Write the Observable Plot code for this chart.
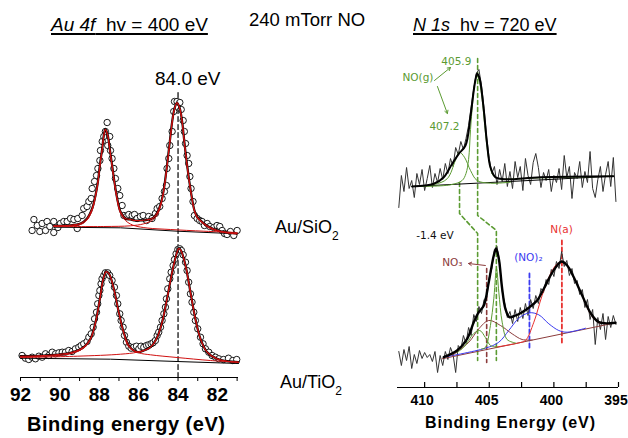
<!DOCTYPE html>
<html><head><meta charset="utf-8">
<script src="https://cdn.jsdelivr.net/npm/d3@7"></script>
<script src="https://cdn.jsdelivr.net/npm/@observablehq/plot@0.6"></script>
<style>
body{margin:0;background:#fff;}
#wrap{position:relative;width:628px;height:438px;overflow:hidden;font-family:"Liberation Sans",Arial,sans-serif;background:#fff;}
#wrap svg{position:absolute;left:0;top:0;}
.t{position:absolute;white-space:nowrap;line-height:1;color:#000;}
.t sub{font-size:12px;vertical-align:-7px;line-height:0;}
</style></head><body>
<div id="wrap">
<div id="pl"></div><div id="pr"></div>
<div class="t" style="left:51px;top:15px;font-size:19px;text-decoration:underline;text-decoration-thickness:1.5px;text-underline-offset:2px"><i>Au 4f</i>&nbsp; hv = 400 eV</div>
<div class="t" style="left:249px;top:11px;font-size:18.5px">240 mTorr NO</div>
<div class="t" style="left:413px;top:16px;font-size:18px;text-decoration:underline;text-decoration-thickness:1.5px;text-underline-offset:2px"><i>N 1s</i>&nbsp; hv = 720 eV</div>
<div class="t" style="left:155px;top:69px;font-size:19px">84.0 eV</div>
<div class="t" style="left:275px;top:218px;font-size:18px">Au/SiO<sub>2</sub></div>
<div class="t" style="left:280px;top:373px;font-size:18px">Au/TiO<sub>2</sub></div>
<div class="t" style="left:27px;top:414px;font-size:20px;font-weight:bold;letter-spacing:0.5px">Binding energy (eV)</div>
<div class="t" style="left:425px;top:415px;font-size:16px;font-weight:bold;letter-spacing:0.95px">Binding Energy (eV)</div>
</div>
<script>
// ---------- Au 4f data (binding energy eV, intensity arb.) ----------
const siE = [91.32,91.41,91.15,91.02,90.90,90.73,90.65,90.51,90.31,90.31,90.10,89.97,89.80,89.63,89.46,89.29,89.12,89.09,88.87,88.79,88.62,88.53,88.41,88.36,88.24,88.14,88.07,87.97,87.94,87.85,87.77,87.69,87.60,87.57,87.47,87.43,87.35,87.26,87.18,87.06,86.96,86.84,86.75,86.62,86.50,86.33,86.21,86.08,85.91,85.77,85.60,85.49,85.32,85.15,85.06,84.93,84.81,84.69,84.59,84.56,84.47,84.42,84.30,84.22,84.18,84.05,83.91,83.84,83.74,83.68,83.62,83.54,83.46,83.40,83.34,83.24,83.17,83.03,82.90,82.78,82.66,82.52,82.39,82.19,82.02,81.88,81.76,81.64,81.51,81.34,81.17,81.00];
const siI = [158,147,152,146,154,147,156,151,156,145,150,154,156,156,159,158,149,159,162,169,171,176,179,189,196,202,209,217,227,236,241,246,255,232,241,227,219,209,199,189,182,172,162,161,163,162,163,159,161,162,157,161,159,164,169,171,179,186,192,209,219,232,246,266,276,276,275,268,257,246,234,222,214,201,189,176,162,159,157,156,152,154,151,150,152,151,147,144,143,146,142,147];
const siFitE = [90.31,88.95,88.62,88.36,88.19,88.07,87.97,87.85,87.77,87.69,87.57,87.47,87.35,87.23,87.09,86.92,86.67,86.42,86.16,85.91,85.57,85.32,85.15,84.98,84.81,84.69,84.56,84.42,84.30,84.18,84.05,83.91,83.79,83.68,83.54,83.40,83.29,83.17,83.03,82.78,82.44,82.02,81.51,81.00];
const siFitI = [151.7,154,159,169,182.3,195.7,212.3,229,242.3,248.3,242.3,229,212.3,195.7,179,165.7,159,158,157,157,157.7,159,162,168,179,192.3,212.3,235.7,255.7,269,275,269,255.7,235.7,212.3,192.3,179,167.3,160.7,155.7,150.7,147.3,145,144];
const siC1E = [90.31,88.95,88.62,88.36,88.19,88.07,87.97,87.85,87.77,87.69,87.57,87.47,87.35,87.23,87.09,86.92,86.67,86.42,86.16,85.57,84.39,82.69,81.00];
const siC1I = [151.3,153,157.5,167,180.5,194,211,228,241.5,248,241.5,228,211,194,177,164,157,153.5,151.5,149.5,148,146.3,145];
const siC2E = [90.31,87.77,86.42,85.74,85.23,84.98,84.81,84.69,84.56,84.42,84.30,84.18,84.05,83.91,83.79,83.68,83.54,83.40,83.29,83.17,83.03,82.78,82.44,82.02,81.51,81.00];
const siC2I = [151,151,151.7,153.7,158.3,165.7,177,190.5,210.5,234,254.5,268,274.5,268.5,255,235,211.5,191.5,178,166.3,159.7,154.7,149.7,146.5,144.5,143.5];
const siBgE = [90.31,86.92,84.05,81.00];
const siBgI = [150.3,149.7,146.3,143.7];

const tiE = [91.92,91.75,91.58,91.41,91.24,91.07,90.90,90.73,90.56,90.39,90.22,90.05,89.88,89.72,89.55,89.38,89.21,89.04,88.92,88.79,88.62,88.53,88.41,88.31,88.24,88.14,88.08,88.02,87.97,87.91,87.86,87.77,87.69,87.57,87.47,87.35,87.23,87.13,87.06,86.96,86.89,86.79,86.72,86.62,86.50,86.38,86.25,86.11,85.99,85.88,85.74,85.60,85.49,85.37,85.27,85.15,85.06,84.98,84.89,84.81,84.72,84.64,84.59,84.52,84.42,84.35,84.25,84.18,84.10,84.01,83.91,83.83,83.74,83.62,83.54,83.46,83.37,83.29,83.20,83.12,83.00,82.86,82.73,82.61,82.44,82.27,82.10,81.93,81.69,81.44,81.22,81.02];
const tiI = [22,19.3,18,20.3,18.7,21.3,20.3,23.7,22,25.3,23.7,24.7,25.3,25.3,27,26,28.7,30.3,32,33.7,36,40.3,43.7,50.3,58.7,65.3,73.7,82,87,93.7,98.7,102,104.7,104.7,102,97,90.3,82,73.7,63.7,57,50.3,42,35.3,31.3,29.3,30.3,31.3,28.7,31.3,30.3,32,32.7,33.7,34.7,37,42,45.3,50.3,57,63.7,70.3,78.7,88.7,98.7,105.3,112,118,123.7,128,128.7,127,122.7,115.3,107,95.3,83.7,75.3,65.3,57,48.7,40.3,33.7,28.7,25.3,22,20.3,18.7,18,19.3,17,18];
const tiFitE = [92.00,90.82,89.46,88.79,88.45,88.19,87.97,87.80,87.65,87.50,87.26,87.01,86.76,86.50,86.25,85.99,85.74,85.40,85.06,84.81,84.56,84.30,84.10,83.96,83.85,83.62,83.37,83.12,82.86,82.52,82.02,81.51,80.93];
const tiFitI = [21.3,22,24.7,30.3,38.7,55.3,78.7,98.7,106,103.7,88.7,65.3,45.3,32,27,25.3,27,30.3,40.3,55.3,78.7,105.3,122,129.3,127,112,85.3,58.7,38.7,25.3,18.7,16.3,15.3];
const tiC1E = [92.0,89.46,88.79,88.45,88.19,87.97,87.80,87.65,87.50,87.26,87.01,86.76,86.50,85.99,85.40,84.05,82.36,80.93];
const tiC1I = [20.7,23.7,29.5,38,54.5,78,98,105.5,103.2,88.2,64.8,44.5,30.3,24.7,22.7,20,17,15.3];
const tiC2E = [92.0,89.12,86.92,86.08,85.40,85.06,84.81,84.56,84.30,84.10,83.96,83.85,83.62,83.37,83.12,82.86,82.52,82.02,81.51,80.93];
const tiC2I = [20,21.3,23.3,25.3,30,40,55,78.5,105,121.7,129,126.7,111.7,85,58.5,38.5,25,18.5,16.2,15.2];
const tiBgE = [92.0,87.43,84.05,80.93];
const tiBgI = [19.3,18.3,16,14];

const auMinorTicks = [92,91,90,89,88,87,86,85,84,83,82,81];
const auTickLabels = [92,90,88,86,84,82];
const au84E = [84,84];
const au84I = [285,0];

// ---------- N 1s data ----------
const nE = [412.0,411.8,411.6,411.4,411.2,411.0,410.8,410.6,410.4,410.2,410.0,409.8,409.6,409.4,409.2,409.0,408.8,408.6,408.4,408.2,408.0,407.8,407.6,407.4,407.2,407.0,406.8,406.6,406.4,406.2,406.0,405.8,405.6,405.4,405.2,405.0,404.8,404.6,404.4,404.2,404.0,403.8,403.6,403.4,403.2,403.0,402.8,402.6,402.4,402.2,402.0,401.8,401.6,401.4,401.2,401.0,400.8,400.6,400.4,400.2,400.0,399.8,399.6,399.4,399.2,399.0,398.8,398.6,398.4,398.2,398.0,397.8,397.6,397.4,397.2,397.0,396.8,396.6,396.4,396.2,396.0,395.8,395.6,395.4,395.2];
const noGasI = [180,212,196,220,199,207,190,214,203,218,197,209,222,200,214,205,219,208,224,214,229,221,240,233,246,238,249,262,281,299,314,318,302,279,250,229,214,221,203,218,206,224,201,216,199,226,210,221,197,229,212,203,225,234,220,200,215,207,218,196,212,205,219,198,232,210,221,189,215,209,226,200,216,205,236,199,190,208,221,196,213,226,201,230,186];
const adsI = [36,22,38,27,41,19,33,24,37,29,35,30,33,26,36,15,32,22,36,28,40,33,15,42,38,52,44,60,52,73,66,81,74,88,90,110,119,138,141,125,96,84,70,76,64,78,66,80,69,84,72,88,79,92,84,99,95,108,103,118,111,126,119,136,121,127,112,119,104,107,93,98,80,88,68,78,43,70,58,74,48,71,60,72,63];

const gFitE = [410.97,409.29,408.52,407.87,407.36,406.84,406.46,406.20,406.05,405.94,405.80,405.68,405.42,405.17,404.91,404.52,403.87,401.04,395.41];
const gFitI = [201,203.7,210.3,223.7,233.7,242,270.3,297,309,314,311,305,277,243.7,220.3,210.3,208.3,210.3,211.3];
const g407E = [410.97,409.29,408.26,407.62,407.31,406.92,406.45,405.94,404.91,403.36];
const g407I = [201,203,208.7,227,235.3,230.3,217,207,204.3,205.3];
const g406E = [410.97,408.0,407.1,406.8,406.6,406.45,406.3,406.15,405.94,405.75,405.55,405.35,405.17,404.95,404.7,404.3,401.04,395.41];
const g406I = [201,202.7,207,214,228,258,283,302,312,305,288,262,240,222,212,209,209.7,211.3];
const gBgE = [410.97,395.41];
const gBgI = [201,211.3];

const aFitE = [408.52,407.49,406.71,406.20,405.81,405.42,405.04,404.65,404.47,404.26,404.0,403.75,403.44,402.97,402.46,401.89,401.30,400.78,400.26,399.75,399.41,398.97,398.46,397.81,397.17,396.52,395.23];
const aFitI = [30.3,37,48.7,65.3,75.3,82,105.3,132,138.7,128.7,98.7,78.7,70.3,72,75.3,80.3,87,98.7,112,122,126,122,110.3,92,74.7,65.3,64.7];
const naE = [404.52,402.71,402.20,401.55,400.91,400.26,399.75,399.41,398.97,398.46,397.81,397.17,396.52,395.23];
const naI = [40.3,44.6,47,65.3,92,113.7,123.7,125.3,122,110.3,92,73.7,64.7,64.7];
const no2E = [408.52,405.30,404.26,403.49,402.71,401.89,401.17,400.39,399.62,398.97,397.55];
const no2I = [30.3,39.3,45.3,57,69.3,74.7,72.7,63.7,57,55.3,59.3];
const no3E = [407.87,406.58,405.81,405.04,404.13,403.23,402.46,401.68];
const no3I = [32,45.3,58.7,67,62,53.7,48,47.5];
const gSmallE = [407.5,407.0,406.6,406.2,405.73,405.3,404.9,404.4];
const gSmallI = [35,40,47,54,57,50,42,40.5];
const gBigE = [405.6,405.30,404.91,404.65,404.44,404.26,404.0,403.62,402.97];
const gBigI = [38.5,40,62,88.7,118.7,95.3,65.3,48,44.5];
const aBgE = [408.65,395.23];
const aBgI = [28.7,64.7];

const dashAE = [407.3,407.3,405.9,405.9], dashAI = [205,174,154,27];
const dashBE = [405.9,405.9,404.45,404.45], dashBI = [329,172,157,27];
const dashNO3E = [405.2,405.2], dashNO3I = [119,25];
const dashNO2E = [401.89,401.89], dashNO2I = [114,39];
const dashNaE = [399.38,399.38], dashNaI = [147,42];

const nMinorTicks = [410,407.5,405,402.5,400,397.5,395];
const nTickLabels = [410,405,400,395];

const labelText = ["NO(g)","405.9","407.2","-1.4 eV","NO\u2083","(NO)\u2082","N(a)"];
const labelE = [410.52,407.55,408.47,409.2,407.85,401.97,399.41];
const labelI = [310,326,261,152,125,130,158];
const labelKind = ["g","g","g","k","b","u","r"];

const arrowX1 = [409.24,409.01,405.3], arrowY1 = [307,301,122];
const arrowX2 = [408.0,408.24,406.6], arrowY2 = [320,274,124];
const arrowKind = ["g","g","b"];

// ---------- helpers ----------
const pts = (E, I) => E.map((e, i) => ({e, v: I[i]}));
const ln = (E, I, o) => Plot.line(pts(E, I), {x: "e", y: "v", ...o});
const colors = {g: "#5b9b32", k: "#111", b: "#8b3b3b", u: "#3b3bf0", r: "#e8312f"};
const RED = "#d01010";

const left = Plot.plot({
  width: 628, height: 438,
  marginLeft: 20, marginRight: 390, marginTop: 77, marginBottom: 61,
  x: {domain: [92, 80.93], axis: null},
  y: {domain: [0, 300], axis: null},
  style: {fontFamily: "Liberation Sans, Arial, sans-serif", background: "transparent", overflow: "visible"},
  marks: [
    Plot.ruleY([0], {stroke: "#000", strokeWidth: 1}),
    Plot.ruleX(auMinorTicks, {x: d => d, y1: () => 0, y2: () => -4, stroke: "#000"}),
    Plot.axisX({ticks: auTickLabels, tickSize: 0, tickPadding: 10, fontSize: 19, fontWeight: "bold", label: null}),
    ln(au84E, au84I, {stroke: "#000", strokeWidth: 1.2, strokeDasharray: "5,3"}),
    Plot.dot(pts(siE, siI), {x: "e", y: "v", r: 3.2, stroke: "#000", strokeWidth: 0.9, fill: "white"}),
    Plot.dot(pts(tiE, tiI), {x: "e", y: "v", r: 3.2, stroke: "#000", strokeWidth: 0.9, fill: "white"}),
    ln(siBgE, siBgI, {stroke: "#000", strokeWidth: 1}),
    ln(tiBgE, tiBgI, {stroke: "#000", strokeWidth: 1}),
    ln(siFitE, siFitI, {stroke: "#000", strokeWidth: 2.2, curve: "catmull-rom"}),
    ln(tiFitE, tiFitI, {stroke: "#000", strokeWidth: 2.2, curve: "catmull-rom"}),
    ln(siC1E, siC1I, {stroke: RED, strokeWidth: 1, curve: "catmull-rom"}),
    ln(siC2E, siC2I, {stroke: RED, strokeWidth: 1, curve: "catmull-rom"}),
    ln(tiC1E, tiC1I, {stroke: RED, strokeWidth: 1, curve: "catmull-rom"}),
    ln(tiC2E, tiC2I, {stroke: RED, strokeWidth: 1, curve: "catmull-rom"}),
    ln(siFitE, siFitI, {stroke: RED, strokeWidth: 1.1, curve: "catmull-rom"}),
    ln(tiFitE, tiFitI, {stroke: RED, strokeWidth: 1.1, curve: "catmull-rom"})
  ]
});

const labels = labelText.map((t, i) => ({t, e: labelE[i], v: labelI[i], c: colors[labelKind[i]]}));
const arrows = arrowX1.map((x1, i) => ({x1, y1: arrowY1[i], x2: arrowX2[i], y2: arrowY2[i], c: colors[arrowKind[i]]}));

const right = Plot.plot({
  width: 628, height: 438,
  marginLeft: 397, marginRight: 10, marginTop: 50, marginBottom: 51,
  x: {domain: [412.1, 395], axis: null},
  y: {domain: [0, 337], axis: null},
  style: {fontFamily: "Liberation Sans, Arial, sans-serif", background: "transparent", overflow: "visible"},
  marks: [
    Plot.ruleY([0], {stroke: "#000", strokeWidth: 1.2}),
    Plot.ruleX(nMinorTicks, {x: d => d, y1: () => 0, y2: () => 5, stroke: "#000", strokeWidth: 1.2}),
    Plot.axisX({ticks: nTickLabels, tickSize: 0, tickPadding: 8, dx: -2.5, fontSize: 14, fontWeight: "bold", label: null}),
    ln(dashAE, dashAI, {stroke: colors.g, strokeWidth: 1.6, strokeDasharray: "4,3"}),
    ln(dashBE, dashBI, {stroke: colors.g, strokeWidth: 1.6, strokeDasharray: "4,3"}),
    ln(dashNO3E, dashNO3I, {stroke: colors.b, strokeWidth: 1.6, strokeDasharray: "4,3"}),
    ln(dashNO2E, dashNO2I, {stroke: colors.u, strokeWidth: 1.8, strokeDasharray: "4,3"}),
    ln(dashNaE, dashNaI, {stroke: colors.r, strokeWidth: 1.8, strokeDasharray: "4,3"}),
    ln(nE, noGasI, {stroke: "#333", strokeWidth: 1}),
    ln(nE, adsI, {stroke: "#333", strokeWidth: 1}),
    ln(gBgE, gBgI, {stroke: "#000", strokeWidth: 1}),
    ln(g407E, g407I, {stroke: colors.g, strokeWidth: 1, curve: "catmull-rom"}),
    ln(g406E, g406I, {stroke: colors.g, strokeWidth: 1, curve: "catmull-rom"}),
    ln(gFitE, gFitI, {stroke: "#000", strokeWidth: 2, curve: "catmull-rom"}),
    ln(aBgE, aBgI, {stroke: colors.b, strokeWidth: 1}),
    ln(no2E, no2I, {stroke: colors.u, strokeWidth: 1, curve: "catmull-rom"}),
    ln(no3E, no3I, {stroke: colors.b, strokeWidth: 1, curve: "catmull-rom"}),
    ln(naE, naI, {stroke: colors.r, strokeWidth: 1, curve: "catmull-rom"}),
    ln(gSmallE, gSmallI, {stroke: colors.g, strokeWidth: 1, curve: "catmull-rom"}),
    ln(gBigE, gBigI, {stroke: colors.g, strokeWidth: 1, curve: "catmull-rom"}),
    ln(aFitE, aFitI, {stroke: "#000", strokeWidth: 2.4, curve: "catmull-rom"}),
    Plot.arrow(arrows, {x1: "x1", y1: "y1", x2: "x2", y2: "y2", stroke: "c", strokeWidth: 1, headLength: 5}),
    Plot.text(labels, {x: "e", y: "v", text: "t", fill: "c", fontSize: 10.5, fontFamily: "DejaVu Sans, sans-serif"})
  ]
});

document.getElementById("pl").appendChild(left);
document.getElementById("pr").appendChild(right);
</script>
</body></html>
